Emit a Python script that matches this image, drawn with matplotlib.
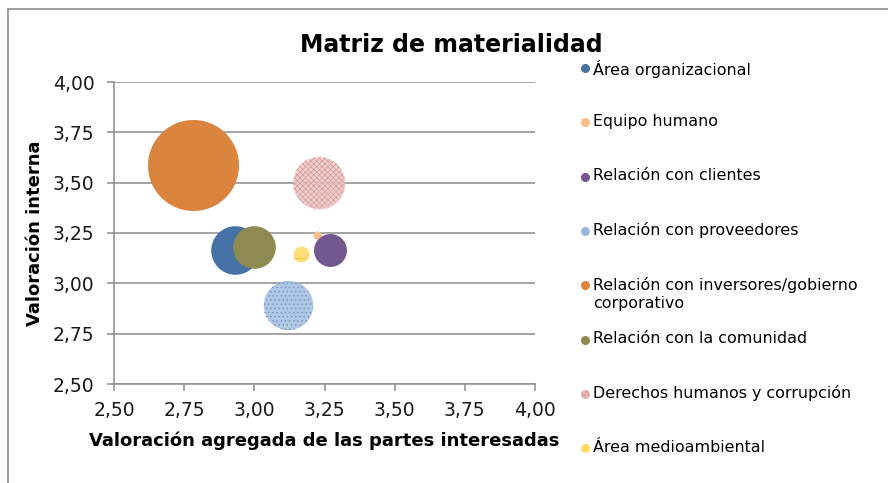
import matplotlib
matplotlib.use("Agg")
import matplotlib.pyplot as plt
from matplotlib.lines import Line2D
from matplotlib.ticker import FuncFormatter, MultipleLocator

# Data
names = ["Área organizacional", "Equipo humano", "Relación con clientes",
         "Relación con proveedores", "Relación con inversores/gobierno\ncorporativo",
         "Relación con la comunidad", "Derechos humanos y corrupción",
         "Área medioambiental"]
x_vals = [2.93, 3.225, 3.27, 3.12, 2.78, 3.00, 3.23, 3.165]
y_vals = [3.168, 3.238, 3.168, 2.89, 3.589, 3.178, 3.50, 3.144]
sizes = [2.85, 0.08, 1.31, 2.95, 10.0, 2.19, 3.27, 0.31]

colors = ["#4672A5", "#FABE8C", "#72588F", "#A9C3E2", "#DB843D",
          "#8F8A52", "#EDCBCA", "#FFDB70"]
hatch_col = [None, None, None, "#6E92C4", None, None, "#D69A98", "#F7BF2A"]
hatches = [None, None, None, "....", None, None, "xxxxxx", "+"]
legend_col = ["#4672A5", "#FABE8C", "#72588F", "#9AB6DC", "#DB843D",
              "#8F8A52", "#E2ADAC", "#FFD966"]

plt.rcParams['font.family'] = ['DejaVu Sans']
fig = plt.figure(figsize=(8.88, 4.83), dpi=100)
ax = fig.add_axes([114/888, 1-384/483, 421/888, 302/483])

smax = (2*45.5*0.72)**2
for i in range(len(names)):
    s = sizes[i]/max(sizes)*smax
    ax.scatter(x_vals[i], y_vals[i], s=s, color=colors[i], linewidths=0,
               zorder=3+i, alpha=0.92 if hatches[i] else 1)
    if hatches[i]:
        plt.rcParams['hatch.color'] = hatch_col[i]
        plt.rcParams['hatch.linewidth'] = 0.5
        ax.scatter(x_vals[i], y_vals[i], s=s, facecolor='none',
                   edgecolors=hatch_col[i], linewidths=0, hatch=hatches[i],
                   zorder=3+i)

ax.set_xlim(2.5, 4.0)
ax.set_ylim(2.5, 4.0)
ax.xaxis.set_major_locator(MultipleLocator(0.25))
ax.yaxis.set_major_locator(MultipleLocator(0.25))
fmt = FuncFormatter(lambda v, p: f"{v:.2f}".replace('.', ','))
ax.xaxis.set_major_formatter(fmt)
ax.yaxis.set_major_formatter(fmt)
ax.grid(axis='y', color='#8C8C8C', linewidth=1.1, zorder=0)
ax.set_axisbelow(True)
for sp in ['top', 'right']:
    ax.spines[sp].set_visible(False)
for sp in ['left', 'bottom']:
    ax.spines[sp].set_color('#8C8C8C')
    ax.spines[sp].set_linewidth(1.1)
ax.tick_params(colors='#8C8C8C', labelcolor='#1A1A1A', labelsize=13.5,
               length=5, width=1.1)
ax.tick_params(axis='x', pad=7)
ax.tick_params(axis='y', pad=9)

ax.set_xlabel('Valoración agregada de las partes interesadas', fontsize=13,
              fontweight='bold', va='center')
ax.set_ylabel('Valoración interna', fontsize=13, fontweight='bold', va='center')
ax.xaxis.set_label_coords(0.5, (384-441)/302)
ax.yaxis.set_label_coords((35-114)/421, 0.5)
fig.text(451/888, 1-45/483, 'Matriz de materialidad', fontsize=17,
         fontweight='bold', ha='center', va='center')

# Legend drawn by hand so every entry keeps the same step
for i, name in enumerate(names):
    yc = 1 - (68 + 54.3*i)/483
    fig.add_artist(Line2D([585/888], [yc], marker='o', markersize=5.5,
                          color=legend_col[i], linestyle='none',
                          transform=fig.transFigure))
    fig.text(593/888, yc + 8.5/483, name, fontsize=11.4, ha='left', va='top',
             linespacing=1.25)

# Outer chart border (cut off at right and bottom)
fig.add_artist(Line2D([8/888, 1], [1-9/483, 1-9/483], color='#8C8C8C',
                      linewidth=1.2, transform=fig.transFigure))
fig.add_artist(Line2D([8/888, 8/888], [0, 1-9/483], color='#8C8C8C',
                      linewidth=1.2, transform=fig.transFigure))

fig.savefig('out.png', dpi=100)
